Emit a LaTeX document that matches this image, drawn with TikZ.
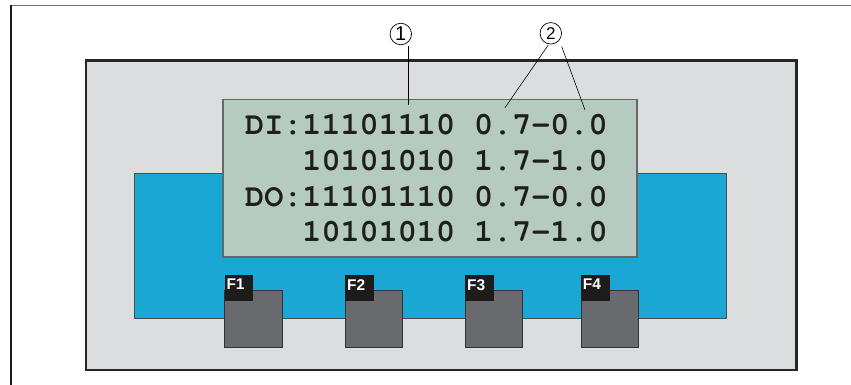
\documentclass[tikz,border=0pt]{standalone}
\usepackage{fontspec}
\setmainfont{Liberation Sans}
\newfontfamily\lcdfont{texgyrecursor-bold.otf}
\definecolor{panel}{HTML}{DCDDDF}
\definecolor{lcdblue}{HTML}{1BA7D3}
\definecolor{lcdgreen}{HTML}{B5CBBF}
\definecolor{btngray}{HTML}{696A6D}
\definecolor{lblblack}{HTML}{1E1B1B}
\definecolor{txt}{HTML}{1E1E1E}
\begin{document}
\begin{tikzpicture}[x=1pt,y=-1pt,
  lcdtext/.style={anchor=base west, inner sep=0pt, font=\lcdfont\fontsize{31.8}{32}\selectfont, text=txt},
  btn/.style={draw=black!80, fill=btngray, line width=0.7pt, minimum width=57.3pt, minimum height=56.7pt, inner sep=0pt, anchor=north west},
  lbl/.style={fill=lblblack, minimum width=28.6pt, minimum height=25.5pt, inner sep=0pt, anchor=north west},
  ftext/.style={anchor=north west, inner sep=0pt, text=white, font=\bfseries\fontsize{15.5}{15.5}\selectfont},
  callout/.style={circle, draw=black, line width=0.7pt, minimum size=21.5pt, inner sep=0pt},
  leader/.style={draw=black, line width=0.6pt}
]
\useasboundingbox (0,0) rectangle (851,385);
% outer frame
\draw[draw=black!55, line width=0.9pt] (11,5) -- (851,5);
\draw[draw=black!90, line width=1.1pt] (11,5) -- (11,385);
% device panel
\draw[draw=black!85, line width=2.2pt, fill=panel] (86,60.5) rectangle (796.5,370);
% blue area
\draw[draw=black!70, line width=0.7pt, fill=lcdblue] (134,173) rectangle (726.5,318);
% LCD
\draw[draw=black!60, line width=1.2pt, fill=lcdgreen] (223,99.5) rectangle (637,257);
% LCD text
\node[lcdtext] (t1) at (245,134.3) {DI:11101110 0.7-0.0};
\node[lcdtext] (t2) at (245,170) {\phantom{DI:}10101010 1.7-1.0};
\node[lcdtext] (t3) at (245,206) {DO:11101110 0.7-0.0};
\node[lcdtext] (t4) at (245,241.7) {\phantom{DO:}10101010 1.7-1.0};
% buttons
\node[btn] (b1) at (224.3,290) {};
\node[btn] (b2) at (345,290) {};
\node[btn] (b3) at (465,290) {};
\node[btn] (b4) at (580.7,290) {};
\node[lbl] (l1) at (224.3,275) {};
\node[lbl] (l2) at (345,275) {};
\node[lbl] (l3) at (465,275) {};
\node[lbl] (l4) at (580.7,275) {};
\node[ftext] (f1) at (226.3,279) {F1};
\node[ftext] (f2) at (347,279) {F2};
\node[ftext] (f3) at (467,279) {F3};
\node[ftext] (f4) at (582.7,279) {F4};
% callouts
\node[callout, font=\fontsize{20}{20}\selectfont] (c1) at (400.8,34) {1};
\node[callout, font=\fontsize{17}{17}\selectfont] (c2) at (550.8,33.3) {2};
\coordinate (a1) at (408.3,46.5);
\coordinate (e1) at (408.3,105);
\coordinate (a2) at (548.3,45);
\coordinate (e2) at (505,107.7);
\coordinate (a3) at (561.7,46.5);
\coordinate (e3) at (585,110);
\draw[leader] (a1) -- (e1);
\draw[leader] (a2) -- (e2);
\draw[leader] (a3) -- (e3);
\end{tikzpicture}
\end{document}
